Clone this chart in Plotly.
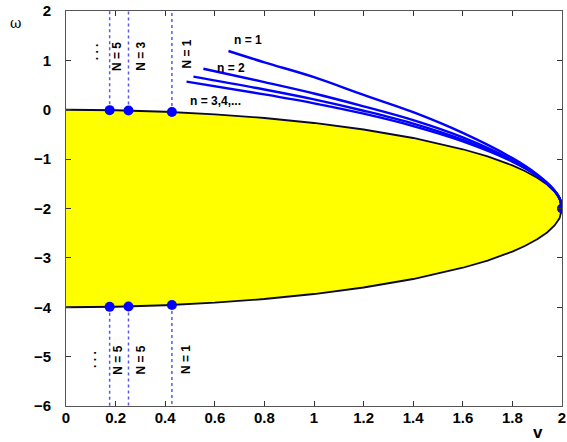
import plotly.graph_objects as go

# ---- data ----
# boundary of the yellow region (upper and lower branches)
region_v = [0.0, 0.2, 0.4, 0.6, 0.8, 1.0, 1.2, 1.4, 1.6, 1.7, 1.8, 1.85, 1.9, 1.94, 1.97, 1.99, 2.0]
region_upper = [0.0, -0.010, -0.040, -0.092, -0.167, -0.268, -0.400, -0.572, -0.800, -0.946,
                -1.128, -1.24, -1.376, -1.514, -1.655, -1.80, -2.0]
region_lower = [-4.0, -3.990, -3.960, -3.908, -3.833, -3.732, -3.600, -3.428, -3.200, -3.054,
                -2.872, -2.76, -2.624, -2.486, -2.345, -2.20, -2.0]

# blue curves
n1_v = [0.655, 0.8, 1.0, 1.2, 1.4, 1.6, 1.8, 1.9, 1.96, 1.99, 2.0]
n1_w = [1.19, 0.96, 0.66, 0.30, -0.05, -0.47, -0.98, -1.31, -1.58, -1.79, -2.0]
n2_v = [0.554, 0.8, 1.0, 1.2, 1.4, 1.6, 1.8, 1.9, 1.96, 1.99, 2.0]
n2_w = [0.83, 0.56, 0.33, 0.07, -0.21, -0.56, -1.02, -1.33, -1.58, -1.79, -2.0]
n3_v = [0.514, 0.8, 1.0, 1.2, 1.4, 1.6, 1.8, 1.9, 1.96, 1.99, 2.0]
n3_w = [0.67, 0.41, 0.21, -0.02, -0.28, -0.61, -1.04, -1.33, -1.585, -1.79, -2.0]
n4_v = [0.486, 0.8, 1.0, 1.2, 1.4, 1.6, 1.8, 1.9, 1.96, 1.99, 2.0]
n4_w = [0.57, 0.31, 0.13, -0.08, -0.33, -0.64, -1.05, -1.34, -1.59, -1.795, -2.0]

# marked points and vertical dotted lines
N_v = [0.176, 0.252, 0.427]
N_upper = [-0.008, -0.016, -0.046]
N_lower = [-3.992, -3.984, -3.954]
tip_v = [2.0]
tip_w = [-2.0]

x_ticks = [0, 0.2, 0.4, 0.6, 0.8, 1, 1.2, 1.4, 1.6, 1.8, 2]
x_ticklabels = ["0", "0.2", "0.4", "0.6", "0.8", "1", "1.2", "1.4", "1.6", "1.8", "2"]
y_ticks = [-6, -5, -4, -3, -2, -1, 0, 1, 2]
y_ticklabels = ["\u22126", "\u22125", "\u22124", "\u22123", "\u22122", "\u22121", "0", "1", "2"]

upper_labels = ["N = 5", "N = 3", "N = 1"]
lower_labels = ["N = 5", "N = 5", "N = 1"]
upper_label_pos = [(0.208, 1.08), (0.304, 1.08), (0.488, 1.12)]
lower_label_pos = [(0.208, -5.07), (0.304, -5.07), (0.484, -5.07)]
curve_labels = ["n = 1", "n = 2", "n = 3,4,..."]
curve_label_pos = [(0.732, 1.42), (0.664, 0.84), (0.604, 0.17)]

# ---- figure ----
fig = go.Figure()

fig.add_trace(go.Scatter(
    x=region_v + region_v[::-1], y=region_upper + region_lower[::-1],
    mode="lines", fill="toself", fillcolor="#FFFF00",
    line=dict(color="#0a0a30", width=1.8), hoverinfo="skip", showlegend=False))

for vv, ww in [(n1_v, n1_w), (n2_v, n2_w), (n3_v, n3_w), (n4_v, n4_w)]:
    fig.add_trace(go.Scatter(x=vv, y=ww, mode="lines",
                             line=dict(color="#0000FF", width=2.4, shape="spline"),
                             showlegend=False))

for v, up, lo in zip(N_v, N_upper, N_lower):
    fig.add_trace(go.Scatter(x=[v, v], y=[up, 2], mode="lines",
                             line=dict(color="#5a5ae6", width=1.5, dash="dot"), showlegend=False))
    fig.add_trace(go.Scatter(x=[v, v], y=[lo, -6], mode="lines",
                             line=dict(color="#5a5ae6", width=1.5, dash="dot"), showlegend=False))

fig.add_trace(go.Scatter(x=N_v + N_v + tip_v, y=N_upper + N_lower + tip_w, mode="markers",
                         marker=dict(color="#0000FF", size=10), showlegend=False))

lab_font = dict(family="Liberation Sans, Arial, sans-serif", size=12, color="black", weight="bold")
for t, (x, y) in zip(upper_labels, upper_label_pos):
    fig.add_annotation(x=x, y=y, text=t, textangle=-90, showarrow=False, font=lab_font)
for t, (x, y) in zip(lower_labels, lower_label_pos):
    fig.add_annotation(x=x, y=y, text=t, textangle=-90, showarrow=False, font=lab_font)
for t, (x, y) in zip(curve_labels, curve_label_pos):
    fig.add_annotation(x=x, y=y, text=t, showarrow=False, font=lab_font)
fig.add_annotation(x=0.116, y=1.18, text=". . .", textangle=-90, showarrow=False, font=lab_font)
fig.add_annotation(x=0.104, y=-5.05, text=". . .", textangle=-90, showarrow=False, font=lab_font)

# axis titles
fig.add_annotation(xref="paper", yref="paper", x=-0.102, y=0.970, xanchor="center", yanchor="middle",
                   text="\u03c9", showarrow=False,
                   font=dict(family="DejaVu Serif, serif", size=14, color="black"))
fig.add_annotation(xref="paper", yref="paper", x=0.952, y=-0.066, xanchor="center", yanchor="middle",
                   text="v", showarrow=False,
                   font=dict(family="Liberation Sans, Arial, sans-serif", size=17, color="black", weight="bold"))

tick_font = dict(family="Liberation Sans, Arial, sans-serif", size=15, color="black", weight="bold")
fig.update_xaxes(range=[0, 2], tickvals=x_ticks, ticktext=x_ticklabels, ticks="inside", ticklen=5,
                 tickcolor="#333", showline=True, linecolor="#555", linewidth=1, mirror="ticks",
                 showgrid=False, zeroline=False, tickfont=tick_font, ticklabelstandoff=-2,
                 ticklabeloverflow="allow")
fig.update_yaxes(range=[-6, 2], tickvals=y_ticks, ticktext=y_ticklabels, ticks="inside", ticklen=5,
                 tickcolor="#333", showline=True, linecolor="#555", linewidth=1, mirror="ticks",
                 showgrid=False, zeroline=False, tickfont=tick_font, ticklabelstandoff=11,
                 ticklabeloverflow="allow")

fig.update_layout(width=567, height=442, margin=dict(l=66, r=1, t=11, b=36),
                  plot_bgcolor="white", paper_bgcolor="white", showlegend=False)

fig.write_html("out.html", config={"displayModeBar": False},
               post_script="document.body.style.margin='0';document.body.style.overflow='hidden';")
